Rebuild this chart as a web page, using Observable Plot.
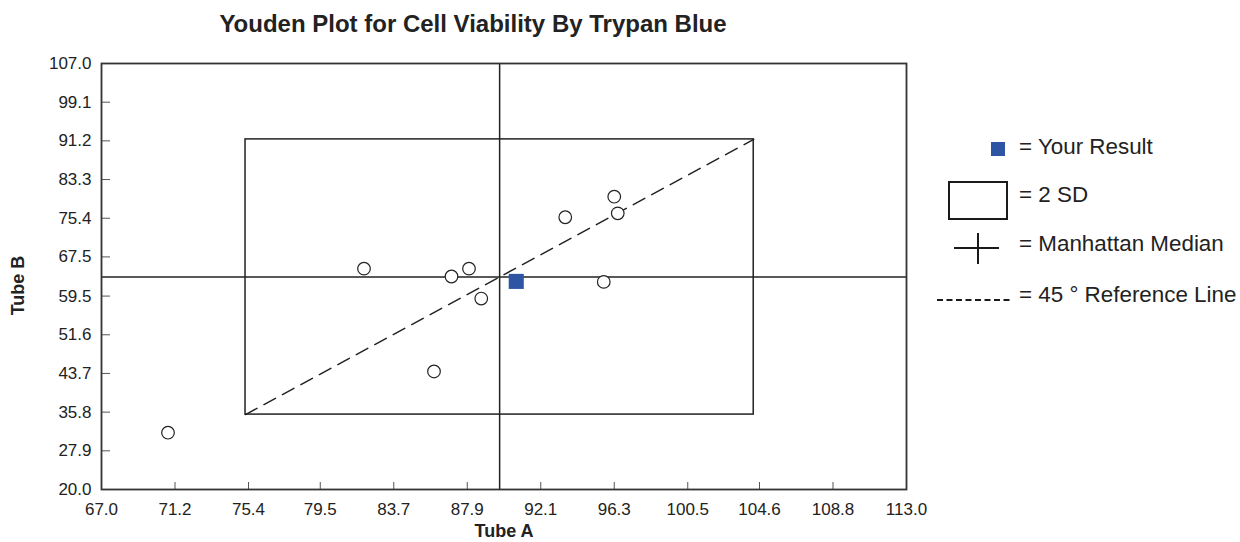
<!DOCTYPE html>
<html>
<head>
<meta charset="utf-8">
<script src="https://cdn.jsdelivr.net/npm/d3@7"></script>
<script src="https://cdn.jsdelivr.net/npm/@observablehq/plot@0.6"></script>
<style>
  html, body { margin: 0; padding: 0; background: #fff; }
  body { width: 1240px; height: 542px; overflow: hidden; font-family: "Liberation Sans", Arial, sans-serif; color: #222; }
  #wrap { position: relative; width: 1240px; height: 542px; }
  #title { position: absolute; left: 0; top: 1px; width: 946px; height: 45px; line-height: 45px; text-align: center; font-weight: bold; font-size: 24px; color: #222; }
  #chart { position: absolute; left: 0; top: 45px; }
  .lg { position: absolute; }
  .lgt { position: absolute; left: 1019px; font-size: 22.4px; color: #222; line-height: 24px; white-space: nowrap; }
</style>
</head>
<body>
<div id="wrap">
  <div id="title">Youden Plot for Cell Viability By Trypan Blue</div>
  <div id="chart"></div>
  <div id="legend"></div>
</div>
<script>
// ---- data ----
const tubeA = [70.8, 82.0, 87.0, 88.0, 88.7, 86.0, 93.5, 96.3, 96.5, 95.7];
const tubeB = [31.6, 65.1, 63.5, 65.1, 59.0, 44.1, 75.6, 79.8, 76.4, 62.4];
const yourA = [90.7];
const yourB = [62.5];
const medianA = 89.75;
const medianB = 63.4;
const sdBoxA = [75.23, 104.27];
const sdBoxB = [35.3, 91.5];
const xTicks = [67.0, 71.2, 75.4, 79.5, 83.7, 87.9, 92.1, 96.3, 100.5, 104.6, 108.8, 113.0];
const yTicks = [20.0, 27.9, 35.8, 43.7, 51.6, 59.5, 67.5, 75.4, 83.3, 91.2, 99.1, 107.0];
const legendLabels = ["= Your Result", "= 2 SD", "= Manhattan Median", "= 45 \u00b0 Reference Line"];

const points = tubeA.map((a, i) => ({a, b: tubeB[i]}));
const yours = yourA.map((a, i) => ({a, b: yourB[i]}));
const box = [{x1: sdBoxA[0], x2: sdBoxA[1], y1: sdBoxB[0], y2: sdBoxB[1]}];
const diag = [{a: sdBoxA[0], b: sdBoxB[0]}, {a: sdBoxA[1], b: sdBoxB[1]}];

const chart = Plot.plot({
  width: 940,
  height: 497,
  marginLeft: 101,
  marginRight: 34,
  marginTop: 18,
  marginBottom: 53,
  style: {fontFamily: "'Liberation Sans', Arial, sans-serif", fontSize: "17px", color: "#222", background: "#fff"},
  x: {domain: [67, 113]},
  y: {domain: [20, 107]},
  marks: [
    Plot.axisX({ticks: xTicks, tickFormat: d => d.toFixed(1), tickSize: -7, tickPadding: 20, label: null, stroke: "#555", fontSize: 17}),
    Plot.axisY({ticks: yTicks, tickFormat: d => d.toFixed(1), tickSize: -9, tickPadding: 19, label: null, stroke: "#555", fontSize: 17}),
    Plot.rect(box, {x1: "x1", x2: "x2", y1: "y1", y2: "y2", fill: "none", stroke: "#222", strokeWidth: 1.5}),
    Plot.ruleX([medianA], {stroke: "#222", strokeWidth: 1.5}),
    Plot.ruleY([medianB], {stroke: "#222", strokeWidth: 1.5}),
    Plot.line(diag, {x: "a", y: "b", stroke: "#222", strokeWidth: 1.5, strokeDasharray: "13,8"}),
    Plot.dot(points, {x: "a", y: "b", r: 6.3, fill: "#fff", stroke: "#222", strokeWidth: 1.2}),
    Plot.dot(yours, {x: "a", y: "b", symbol: "square", r: 8.5, fill: "#2e54a4", stroke: "none"}),
    Plot.frame({stroke: "#333", strokeWidth: 1.8}),
    Plot.text(["Tube A"], {frameAnchor: "bottom", dy: 47, fontWeight: "bold", fontSize: 18, fill: "#222"}),
    Plot.text(["Tube B"], {frameAnchor: "left", textAnchor: "middle", dx: -83, dy: 9, rotate: -90, fontWeight: "bold", fontSize: 18, fill: "#222"})
  ]
});
document.getElementById("chart").appendChild(chart);

// ---- legend ----
const lg = document.getElementById("legend");
lg.innerHTML = `
  <div class="lg" style="left:991px;top:142px;width:14px;height:14px;background:#2e54a4;"></div>
  <div class="lg" style="left:948px;top:181px;width:56px;height:35px;border:2px solid #1a1a1a;"></div>
  <svg class="lg" style="left:954px;top:233px" width="46" height="32">
    <line x1="0" x2="45" y1="15" y2="15" stroke="#1a1a1a" stroke-width="2"/>
    <line x1="24" x2="24" y1="0" y2="31" stroke="#1a1a1a" stroke-width="2"/>
  </svg>
  <svg class="lg" style="left:937px;top:297px" width="76" height="6">
    <line x1="0" x2="76" y1="3" y2="3" stroke="#1a1a1a" stroke-width="2" stroke-dasharray="6,3.5"/>
  </svg>
`;
const centers = [147, 195, 244, 295];
legendLabels.forEach((t, i) => {
  const d = document.createElement("div");
  d.className = "lgt";
  d.style.top = (centers[i] - 12) + "px";
  d.textContent = t;
  lg.appendChild(d);
});
</script>
</body>
</html>
